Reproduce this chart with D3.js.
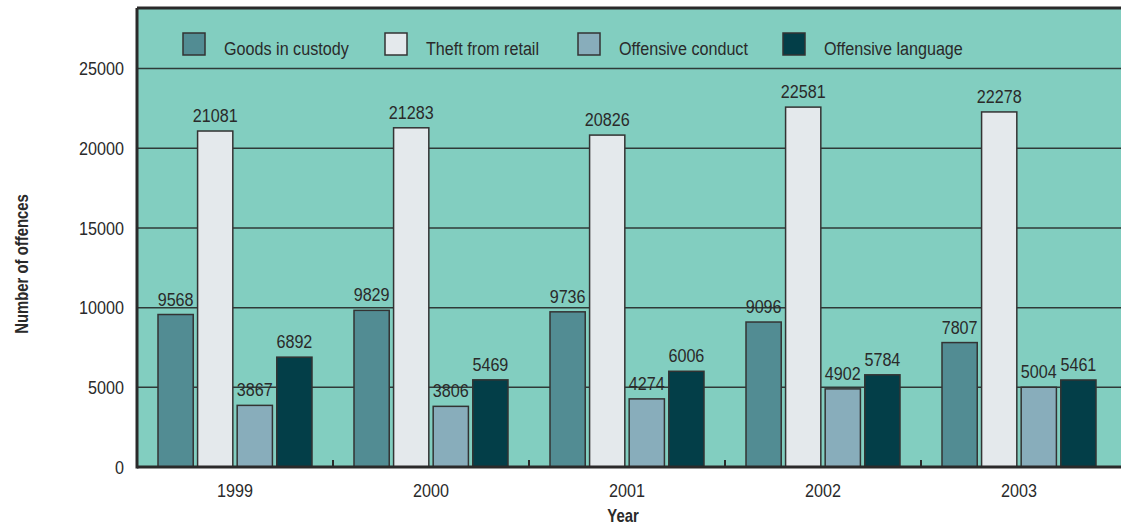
<!DOCTYPE html>
<html><head><meta charset="utf-8">
<script src="https://cdn.jsdelivr.net/npm/d3@7/dist/d3.min.js"></script>
<style>
body{margin:0;background:#fff;}
text{font-family:"Liberation Sans",Arial,sans-serif;fill:#2a2a2a;}
</style></head><body>
<svg id="c" width="1121" height="527"></svg>
<script>
const years = ["1999","2000","2001","2002","2003"];
const seriesNames = ["Goods in custody","Theft from retail","Offensive conduct","Offensive language"];
const goodsInCustody = [9568, 9829, 9736, 9096, 7807];
const theftFromRetail = [21081, 21283, 20826, 22581, 22278];
const offensiveConduct = [3867, 3806, 4274, 4902, 5004];
const offensiveLanguage = [6892, 5469, 6006, 5784, 5461];
const yTicks = [0, 5000, 10000, 15000, 20000, 25000];
const colors = ["#528c93", "#e4e9ec", "#88adbb", "#033e48"];

const seriesValues = [goodsInCustody, theftFromRetail, offensiveConduct, offensiveLanguage];
const SX = 0.85; // narrow-font emulation

const svg = d3.select("#c");
const L = 137, R = 1121, T = 8, B = 467;

const x0 = d3.scaleBand().domain(years).range([L, L + 980]).padding(0);
const x1 = d3.scaleBand().domain(seriesNames).range([21, 175]).paddingInner(0.11);
const y = d3.scaleLinear().domain([0, 28800]).range([B, T]);

const tr = (x, yy, extra = "") => `translate(${x},${yy})${extra} scale(${SX},1)`;

// background
svg.append("rect").attr("x", L).attr("y", T).attr("width", R - L).attr("height", B - T).attr("fill", "#82cec0");

// gridlines
svg.append("g").selectAll("line").data(yTicks.filter(d => d > 0)).join("line")
  .attr("x1", L).attr("x2", R).attr("y1", d => y(d)).attr("y2", d => y(d))
  .attr("stroke", "#2f3a38").attr("stroke-width", 1.5);

// y tick labels
svg.append("g").selectAll("text").data(yTicks).join("text")
  .attr("transform", d => tr(124, y(d))).attr("dy", "0.36em")
  .attr("text-anchor", "end").attr("font-size", 19)
  .text(d => d);

// bars
const groups = svg.append("g").selectAll("g").data(years).join("g")
  .attr("transform", d => `translate(${x0(d)},0)`);
groups.each(function(yr, i) {
  const g = d3.select(this);
  const rows = seriesNames.map((s, k) => ({s, v: seriesValues[k][i], c: colors[k]}));
  g.selectAll("rect").data(rows).join("rect")
    .attr("x", d => x1(d.s)).attr("width", x1.bandwidth())
    .attr("y", d => y(d.v)).attr("height", d => B - y(d.v))
    .attr("fill", d => d.c).attr("stroke", "#333").attr("stroke-width", 1.5);
  g.selectAll("text").data(rows).join("text")
    .attr("transform", d => tr(x1(d.s) + x1.bandwidth() / 2, y(d.v) - 9))
    .attr("text-anchor", "middle").attr("font-size", 19)
    .text(d => d.v);
});

// frame: left and top border, x axis
svg.append("line").attr("x1", L).attr("x2", R).attr("y1", T).attr("y2", T).attr("stroke", "#2a2a2a").attr("stroke-width", 3);
svg.append("line").attr("x1", L).attr("x2", L).attr("y1", T).attr("y2", B + 1.5).attr("stroke", "#2a2a2a").attr("stroke-width", 3);
svg.append("line").attr("x1", L).attr("x2", R).attr("y1", B).attr("y2", B).attr("stroke", "#2a2a2a").attr("stroke-width", 3);

// x ticks between groups
svg.append("g").selectAll("line").data(years.slice(1)).join("line")
  .attr("x1", d => x0(d)).attr("x2", d => x0(d)).attr("y1", B).attr("y2", B - 7)
  .attr("stroke", "#2a2a2a").attr("stroke-width", 2);

// x labels
svg.append("g").selectAll("text").data(years).join("text")
  .attr("transform", d => tr(x0(d) + x0.bandwidth() / 2, 497))
  .attr("text-anchor", "middle").attr("font-size", 19).text(d => d);

// axis titles
svg.append("text").attr("transform", tr(623, 522)).attr("text-anchor", "middle")
  .attr("font-size", 17.5).attr("font-weight", "bold").text("Year");
svg.append("text").attr("transform", tr(28, 264, " rotate(-90)")).attr("text-anchor", "middle")
  .attr("font-size", 17.5).attr("font-weight", "bold").text("Number of offences");

// legend
const legX = [183, 385, 578, 783];
const leg = svg.append("g").selectAll("g").data(seriesNames).join("g")
  .attr("transform", (d, i) => `translate(${legX[i]},33)`);
leg.append("rect").attr("width", 22).attr("height", 22)
  .attr("fill", (d, i) => colors[i]).attr("stroke", "#333").attr("stroke-width", 1.5);
leg.append("text").attr("transform", tr(41, 22)).attr("font-size", 19).text(d => d);
</script>
</body></html>
